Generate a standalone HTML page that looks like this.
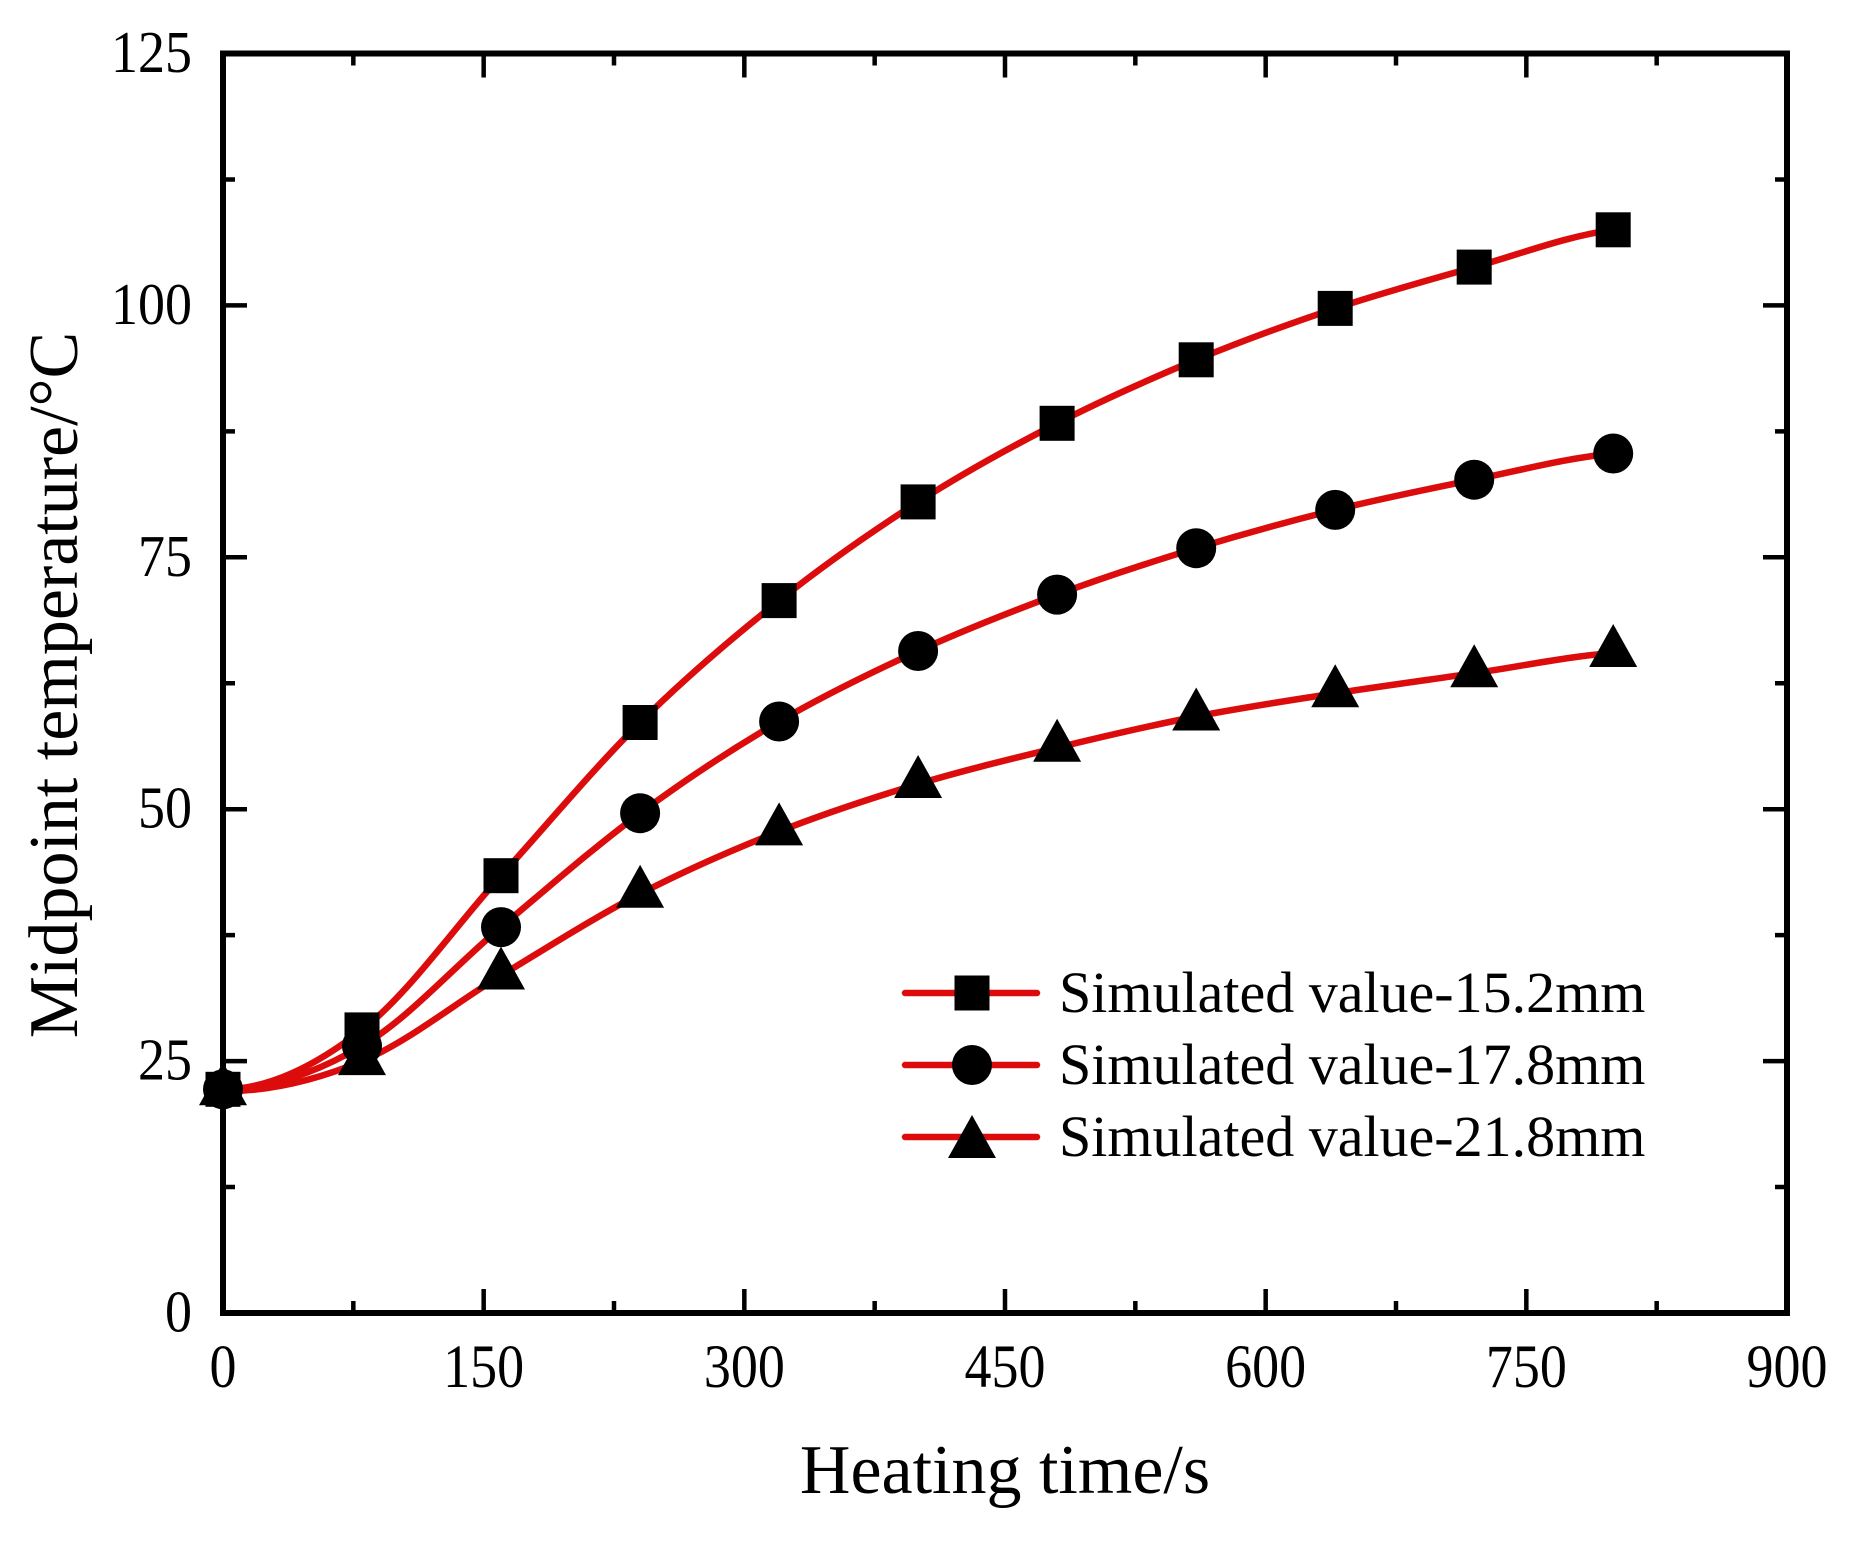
<!DOCTYPE html>
<html>
<head>
<meta charset="utf-8">
<style>
  html,body{margin:0;padding:0;background:#fff;}
  svg{display:block;}
  text{font-family:"Liberation Serif","Times New Roman",serif;fill:#000;}
</style>
</head>
<body>
<svg width="1859" height="1541" viewBox="0 0 1859 1541" xmlns="http://www.w3.org/2000/svg">
  <rect x="0" y="0" width="1859" height="1541" fill="#fff"/>

  <!-- ticks -->
  <g stroke="#000" stroke-width="4.5" fill="none">
    <!-- bottom major -->
    <path d="M483.67,1313V1289 M744.33,1313V1289 M1005,1313V1289 M1265.67,1313V1289 M1526.33,1313V1289"/>
    <!-- bottom minor -->
    <path d="M353.33,1313V1301 M614,1313V1301 M874.67,1313V1301 M1135.33,1313V1301 M1396,1313V1301 M1656.67,1313V1301"/>
    <!-- top major -->
    <path d="M483.67,53.5V77.5 M744.33,53.5V77.5 M1005,53.5V77.5 M1265.67,53.5V77.5 M1526.33,53.5V77.5"/>
    <!-- top minor -->
    <path d="M353.33,53.5V65.5 M614,53.5V65.5 M874.67,53.5V65.5 M1135.33,53.5V65.5 M1396,53.5V65.5 M1656.67,53.5V65.5"/>
    <!-- left major -->
    <path d="M223,1061.1H247 M223,809.2H247 M223,557.3H247 M223,305.4H247"/>
    <!-- left minor -->
    <path d="M223,1187.05H235 M223,935.15H235 M223,683.25H235 M223,431.35H235 M223,179.45H235"/>
    <!-- right major -->
    <path d="M1787,1061.1H1763 M1787,809.2H1763 M1787,557.3H1763 M1787,305.4H1763"/>
    <!-- right minor -->
    <path d="M1787,1187.05H1775 M1787,935.15H1775 M1787,683.25H1775 M1787,431.35H1775 M1787,179.45H1775"/>
  </g>

  <!-- curves -->
  <g stroke="#dc0c0c" stroke-width="6.5" fill="none" stroke-linecap="round" stroke-linejoin="round">
    <path d="M223,1089.3 C269.3,1089.3 315.7,1065.5 362,1029.9 C408.3,994.3 454.7,926.9 501,875.7 C547.3,824.5 593.8,768.4 640.1,722.5 C686.4,676.7 732.8,637.4 779.1,600.6 C825.4,563.8 871.8,531.5 918.1,501.9 C964.4,472.4 1010.8,447.0 1057.1,423.3 C1103.4,399.6 1149.9,379.0 1196.2,359.8 C1242.5,340.7 1288.9,323.9 1335.2,308.4 C1381.5,293.0 1427.9,280.2 1474.2,267.1 C1520.5,254.0 1566.9,236.0 1613.2,229.8"/>
    <path d="M223,1089.3 C269.3,1089.3 315.7,1073.0 362,1046.0 C408.3,1019.0 454.7,965.9 501,927.1 C547.3,888.3 593.8,847.5 640.1,813.2 C686.4,778.9 732.8,748.5 779.1,721.5 C825.4,694.5 871.8,672.2 918.1,651.0 C964.4,629.9 1010.8,611.7 1057.1,594.6 C1103.4,577.5 1149.9,562.3 1196.2,548.2 C1242.5,534.1 1288.9,521.3 1335.2,509.9 C1381.5,498.5 1427.9,489.1 1474.2,479.7 C1520.5,470.3 1566.9,457.9 1613.2,453.5"/>
    <path d="M223,1091.3 C269.3,1091.3 315.7,1080.4 362,1061.1 C408.3,1041.8 454.7,1003.4 501,975.5 C547.3,947.6 593.8,917.8 640.1,893.8 C686.4,869.8 732.8,849.7 779.1,831.4 C825.4,813.1 871.8,798.0 918.1,784.0 C964.4,770.1 1010.8,759.0 1057.1,747.7 C1103.4,736.5 1149.9,725.6 1196.2,716.5 C1242.5,707.4 1288.9,700.5 1335.2,693.3 C1381.5,686.1 1427.9,679.9 1474.2,673.2 C1520.5,666.5 1566.9,656.4 1613.2,653.0"/>
  </g>

  <!-- square markers (35x35) -->
  <g fill="#000">
    <rect x="205.5" y="1071.8" width="35" height="35"/>
    <rect x="344.5" y="1012.4" width="35" height="35"/>
    <rect x="483.5" y="858.2" width="35" height="35"/>
    <rect x="622.6" y="705" width="35" height="35"/>
    <rect x="761.6" y="583.1" width="35" height="35"/>
    <rect x="900.6" y="484.4" width="35" height="35"/>
    <rect x="1039.6" y="405.8" width="35" height="35"/>
    <rect x="1178.7" y="342.3" width="35" height="35"/>
    <rect x="1317.7" y="290.9" width="35" height="35"/>
    <rect x="1456.7" y="249.6" width="35" height="35"/>
    <rect x="1595.7" y="212.3" width="35" height="35"/>
  </g>

  <!-- circle markers -->
  <g fill="#000">
    <circle cx="223" cy="1089.3" r="20"/>
    <circle cx="362" cy="1046.0" r="20"/>
    <circle cx="501" cy="927.1" r="20"/>
    <circle cx="640.1" cy="813.2" r="20"/>
    <circle cx="779.1" cy="721.5" r="20"/>
    <circle cx="918.1" cy="651.0" r="20"/>
    <circle cx="1057.1" cy="594.6" r="20"/>
    <circle cx="1196.2" cy="548.2" r="20"/>
    <circle cx="1335.2" cy="509.9" r="20"/>
    <circle cx="1474.2" cy="479.7" r="20"/>
    <circle cx="1613.2" cy="453.5" r="20"/>
  </g>

  <!-- triangle markers: apex y-29, base y+14, half width 24 -->
  <g fill="#000">
    <polygon points="223,1062.3 199,1105.3 247,1105.3"/>
    <polygon points="362,1032.1 338,1075.1 386,1075.1"/>
    <polygon points="501,946.5 477,989.5 525,989.5"/>
    <polygon points="640.1,864.8 616.1,907.8 664.1,907.8"/>
    <polygon points="779.1,802.4 755.1,845.4 803.1,845.4"/>
    <polygon points="918.1,755 894.1,798 942.1,798"/>
    <polygon points="1057.1,718.7 1033.1,761.7 1081.1,761.7"/>
    <polygon points="1196.2,687.5 1172.2,730.5 1220.2,730.5"/>
    <polygon points="1335.2,664.3 1311.2,707.3 1359.2,707.3"/>
    <polygon points="1474.2,644.2 1450.2,687.2 1498.2,687.2"/>
    <polygon points="1613.2,624 1589.2,667 1637.2,667"/>
  </g>

  <!-- axes frame -->
  <rect x="223" y="53.5" width="1564" height="1259.5" fill="none" stroke="#000" stroke-width="6"/>

  <!-- y tick labels -->
  <g font-size="54" text-anchor="end">
    <text transform="translate(192,1331.5) scale(1,1.1)">0</text>
    <text transform="translate(192,1079.6) scale(1,1.1)">25</text>
    <text transform="translate(192,827.7) scale(1,1.1)">50</text>
    <text transform="translate(192,575.8) scale(1,1.1)">75</text>
    <text transform="translate(192,323.9) scale(1,1.1)">100</text>
    <text transform="translate(192,72) scale(1,1.1)">125</text>
  </g>

  <!-- x tick labels -->
  <g font-size="54" text-anchor="middle">
    <text transform="translate(223,1387) scale(1,1.13)">0</text>
    <text transform="translate(483.67,1387) scale(1,1.13)">150</text>
    <text transform="translate(744.33,1387) scale(1,1.13)">300</text>
    <text transform="translate(1005,1387) scale(1,1.13)">450</text>
    <text transform="translate(1265.67,1387) scale(1,1.13)">600</text>
    <text transform="translate(1526.33,1387) scale(1,1.13)">750</text>
    <text transform="translate(1787,1387) scale(1,1.13)">900</text>
  </g>

  <!-- axis titles -->
  <text x="1005" y="1493" font-size="70" text-anchor="middle">Heating time/s</text>
  <text transform="translate(77,685) rotate(-90)" font-size="70" text-anchor="middle">Midpoint temperature/°C</text>

  <!-- legend -->
  <g stroke="#dc0c0c" stroke-width="6.5" stroke-linecap="round">
    <line x1="905" y1="993" x2="1037" y2="993"/>
    <line x1="905" y1="1065" x2="1037" y2="1065"/>
    <line x1="905" y1="1137" x2="1037" y2="1137"/>
  </g>
  <rect x="954.5" y="975.5" width="35" height="35" fill="#000"/>
  <circle cx="972" cy="1065" r="20" fill="#000"/>
  <polygon points="972,1115 948,1158 996,1158" fill="#000"/>
  <g font-size="58">
    <text x="1059" y="1012">Simulated value-15.2mm</text>
    <text x="1059" y="1084">Simulated value-17.8mm</text>
    <text x="1059" y="1156">Simulated value-21.8mm</text>
  </g>
</svg>
</body>
</html>
